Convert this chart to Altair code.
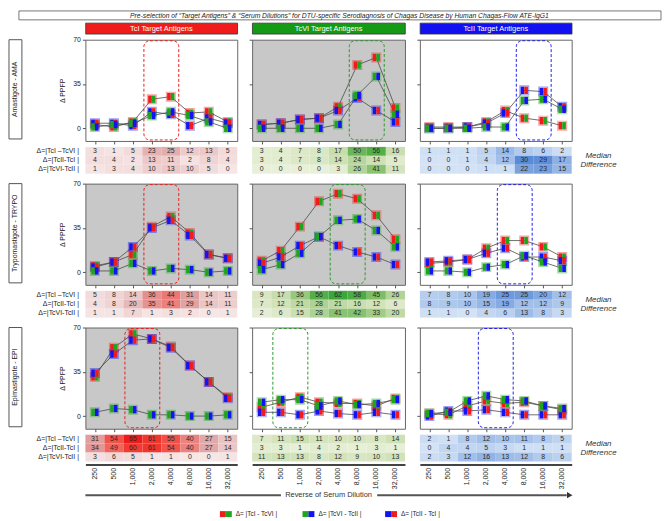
import altair as alt
import pandas as pd

# ---------------- data ----------------
dils = ["250", "500", "1,000", "2,000", "4,000", "8,000", "16,000", "32,000"]
series = ["Δ=|TcI –TcVI |", "Δ=|TcII-TcI |", "Δ=|TcVI-TcII |"]
row_names = ["Amastigote - AMA", "Trypomastigote - TRYPO", "Epimastigote - EPI"]
col_names = ["TcI Target Antigens", "TcVI Target Antigens", "TcII Target Antigens"]
legend_labels = ["Δ= |TcI - TcVI |", "Δ= |TcVI - TcII |", "Δ= |TcII - TcI |"]
title_text = ("Pre-selection of “Target Antigens” & “Serum Dilutions” for  DTU-specific "
              "Serodiagnosis of Chagas Disease by Human Chagas-Flow ATE-IgG1")
axis_caption = "Reverse of Serum Dilution"
side_note = "Median\nDifference"

# median differences: [TcI-TcVI, TcII-TcI, TcVI-TcII] per dilution
tci_ama = [[3, 1, 5, 23, 25, 12, 13, 5], [4, 4, 2, 13, 11, 2, 8, 4], [1, 3, 4, 10, 13, 10, 5, 0]]
tci_trypo = [[5, 8, 14, 36, 44, 31, 14, 11], [4, 8, 20, 35, 41, 29, 14, 11], [1, 1, 7, 1, 3, 2, 0, 1]]
tci_epi = [[31, 54, 65, 61, 55, 40, 27, 15], [34, 49, 60, 61, 54, 40, 27, 14], [3, 6, 5, 1, 1, 0, 0, 1]]
tcvi_ama = [[3, 4, 7, 8, 17, 50, 56, 16], [3, 4, 7, 8, 14, 24, 14, 5], [0, 0, 0, 0, 3, 26, 41, 11]]
tcvi_trypo = [[9, 17, 36, 56, 62, 58, 45, 26], [7, 12, 21, 28, 21, 16, 12, 6], [2, 6, 15, 28, 41, 42, 33, 20]]
tcvi_epi = [[7, 11, 15, 11, 10, 10, 8, 14], [3, 3, 1, 4, 2, 1, 3, 1], [11, 13, 13, 8, 12, 9, 10, 13]]
tcii_ama = [[1, 1, 1, 5, 14, 8, 6, 2], [0, 0, 1, 4, 12, 30, 29, 17], [0, 0, 0, 1, 1, 22, 23, 15]]
tcii_trypo = [[7, 8, 10, 19, 25, 25, 20, 12], [8, 9, 10, 15, 19, 12, 12, 9], [1, 1, 0, 4, 6, 13, 8, 3]]
tcii_epi = [[2, 1, 8, 12, 10, 11, 8, 5], [0, 4, 4, 5, 3, 1, 1, 1], [2, 3, 12, 16, 13, 12, 8, 6]]

# selected dilution windows (dashed boxes)
win_tci = [("2,000", "4,000"), ("2,000", "4,000"), ("1,000", "2,000")]
win_tcvi = [("8,000", "16,000"), ("4,000", "8,000"), ("500", "1,000")]
win_tcii = [("8,000", "16,000"), ("4,000", "8,000"), ("2,000", "4,000")]

panels = [[tci_ama, tcvi_ama, tcii_ama], [tci_trypo, tcvi_trypo, tcii_trypo], [tci_epi, tcvi_epi, tcii_epi]]
windows = [win_tci, win_tcvi, win_tcii]
gray_panels = [(0, 1), (1, 0), (1, 1), (2, 0)]

# ---------------- styles ----------------
RED, GREEN, BLUE = "#f01c1c", "#1ea51e", "#1414f0"
HEAD = [RED, "#149a14", "#1010f0"]
DASH = ["#e82020", "#2a9a2a", "#2020e8"]
left_col = {series[0]: RED, series[1]: BLUE, series[2]: GREEN}
right_col = {series[0]: GREEN, series[1]: RED, series[2]: BLUE}
leg_left = [RED, GREEN, BLUE]
leg_right = [GREEN, BLUE, RED]
cell_scales = [
    alt.Scale(domain=[0, 30, 65], range=["#f6e6e6", "#dda2a2", "#ef1a1a"]),
    alt.Scale(domain=[0, 30, 62], range=["#e9f0da", "#a9d08e", "#39a739"]),
    alt.Scale(domain=[0, 30], range=["#d3e2f5", "#5a8bd6"]),
]
LEFT_HALF = "M-1,-1H0V1H-1Z"
RIGHT_HALF = "M0,-1H1V1H0Z"
COLW = [153, 154, 153]
PLOTH = [102, 102, 102]
TABH = [31, 31, 30]
C0W = 62


def xscale_point():
    return alt.Scale(type="point", domain=dils, padding=0.5)


def plot_panel(r, c):
    vals = panels[r][c]
    w, h = COLW[c], PLOTH[r]
    recs = []
    for s, v in zip(series, vals):
        for i, (d, y) in enumerate(zip(dils, v)):
            recs.append({"dil": d, "v": y, "s": s, "i": i, "lc": left_col[s], "rc": right_col[s]})
    df = pd.DataFrame(recs)
    xax = alt.Axis(labels=False, ticks=True, tickSize=3, domain=False, title=None, grid=False)
    if c == 0:
        yax = alt.Axis(values=[0, 35, 70], title="Δ PPFP", titleFontSize=7, titleFontWeight="normal",
                       titlePadding=7, labelFontSize=7, tickSize=3, domain=False, grid=False)
    else:
        yax = alt.Axis(values=[0, 35, 70], title=None, labels=False, tickSize=3, domain=False, grid=False)
    xe = alt.X("dil:O", scale=xscale_point(), axis=xax)
    ye = alt.Y("v:Q", scale=alt.Scale(domain=[-10, 70], nice=False, zero=False), axis=yax)
    base = alt.Chart(df).encode(x=xe, y=ye)
    win = windows[c][r]
    bdf = pd.DataFrame({"dil": [win[0]], "dil2": [win[1]]})
    box = alt.Chart(bdf).mark_rect(fillOpacity=0, stroke=DASH[c], strokeDash=[3, 2], strokeWidth=1,
                                   cornerRadius=6, xOffset=-8, x2Offset=8).encode(
        x=xe, x2="dil2:O", y=alt.value(1), y2=alt.value(h - 1))
    line = base.mark_line(color="#4a4a4a", strokeWidth=0.8).encode(detail="s:N", order="i:Q")
    outline = base.mark_point(shape="square", filled=False, size=80, strokeWidth=1.1, opacity=0.4).encode(
        stroke=alt.Stroke("lc:N", scale=None))
    lh = base.mark_point(shape=LEFT_HALF, filled=True, size=56, opacity=1, strokeWidth=0).encode(
        fill=alt.Fill("lc:N", scale=None))
    rh = base.mark_point(shape=RIGHT_HALF, filled=True, size=56, opacity=1, strokeWidth=0).encode(
        fill=alt.Fill("rc:N", scale=None))
    fill = "#c8c8c8" if (r, c) in gray_panels else "white"
    return alt.layer(box, line, outline, lh, rh).properties(
        width=w, height=h, view=alt.ViewBackground(fill=fill, stroke="#666666", strokeWidth=1))


def table_panel(r, c):
    vals = panels[r][c]
    w, hh = COLW[c], TABH[r]
    recs = []
    for s, v in zip(series, vals):
        for d, y in zip(dils, v):
            recs.append({"dil": d, "s": s, "v": y})
    df = pd.DataFrame(recs)
    if r == 2:
        xax = alt.Axis(title=None, ticks=False, domain=True, domainColor="#444444", domainWidth=2,
                       labelAngle=270, labelFontSize=7, labelPadding=3)
    else:
        xax = None
    if c == 0:
        yax = alt.Axis(title=None, ticks=False, domain=False, labelFontSize=7, labelPadding=7)
    else:
        yax = None
    xe = alt.X("dil:O", scale=alt.Scale(type="band", domain=dils, paddingInner=0, paddingOuter=0), axis=xax)
    ye = alt.Y("s:N", scale=alt.Scale(type="band", domain=series, range=[0, 27], paddingInner=0, paddingOuter=0),
               axis=yax)
    base = alt.Chart(df).encode(x=xe, y=ye)
    rect = base.mark_rect().encode(color=alt.Color("v:Q", scale=cell_scales[c], legend=None))
    txt = base.mark_text(fontSize=7, color="#2a2a2a").encode(text="v:Q")
    layers = [rect, txt]
    if c == 2:
        ndf = pd.DataFrame({"t": [side_note]})
        note = alt.Chart(ndf).mark_text(fontSize=8, fontStyle="italic", color="#333333", lineBreak="\n",
                                        lineHeight=9, align="center", baseline="middle").encode(
            text="t:N", x=alt.value(w + 27), y=alt.value(9))
        layers.append(note)
    return alt.layer(*layers).properties(width=w, height=hh)


def row_label(r):
    h = PLOTH[r]
    df = pd.DataFrame({"t": [row_names[r]]})
    box = alt.Chart(df).mark_rect(fill="white", stroke="#555555", strokeWidth=1).encode(
        x=alt.value(0), x2=alt.value(13), y=alt.value(0), y2=alt.value(h - 2))
    txt = alt.Chart(df).mark_text(angle=270, fontSize=7, color="#222222").encode(
        text="t:N", x=alt.value(6.5), y=alt.value((h - 2) / 2))
    return alt.layer(box, txt).properties(width=C0W, height=h)


def header(c):
    df = pd.DataFrame({"t": [col_names[c]]})
    return alt.Chart(df).mark_text(color="white", fontSize=7.5).encode(
        text="t:N", x=alt.value(COLW[c] / 2), y=alt.value(6)).properties(
        width=COLW[c], height=11, view=alt.ViewBackground(fill=HEAD[c], stroke="#333333", strokeWidth=0.8))


def placeholder():
    return alt.Chart(pd.DataFrame({"t": [0]})).mark_point(size=0, opacity=0).encode(
        x=alt.value(1), y=alt.value(1)).properties(width=C0W, height=1)


cells = [placeholder()] + [header(c) for c in range(3)]
for r in range(3):
    cells += [row_label(r)] + [plot_panel(r, c) for c in range(3)]
    cells += [placeholder()] + [table_panel(r, c) for c in range(3)]

grid = alt.concat(*cells, columns=4, spacing={"row": 6, "column": 15}, bounds="flush",
                  align="each").resolve_scale(color="independent")

# title box
tdf = pd.DataFrame({"t": [title_text]})
tbox = alt.Chart(tdf).mark_rect(fill="white", stroke="#555555", strokeWidth=0.8).encode(
    x=alt.value(10), x2=alt.value(657), y=alt.value(0), y2=alt.value(9))
ttxt = alt.Chart(tdf).mark_text(fontSize=6.8, fontStyle="italic", color="#222222").encode(
    text="t:N", x=alt.value(333), y=alt.value(5))
title_chart = alt.layer(tbox, ttxt).properties(width=657, height=9)

# bottom: arrow + caption + legend
cdf = pd.DataFrame({"t": [axis_caption]})
seg1 = alt.Chart(cdf).mark_rule(color="#555555", strokeWidth=2).encode(
    x=alt.value(77), x2=alt.value(274), y=alt.value(4))
seg2 = alt.Chart(cdf).mark_rule(color="#555555", strokeWidth=2).encode(
    x=alt.value(371), x2=alt.value(562), y=alt.value(4))
head = alt.Chart(cdf).mark_point(shape="triangle-right", filled=True, size=40, opacity=1, color="#333333").encode(
    x=alt.value(565), y=alt.value(4))
cap = alt.Chart(cdf).mark_text(fontSize=7.5, color="#333333").encode(text="t:N", x=alt.value(322), y=alt.value(4))

ldf = pd.DataFrame({"lab": legend_labels, "lc": leg_left, "rc": leg_right})
lx = alt.X("lab:N", scale=alt.Scale(type="point", domain=legend_labels, range=[218.5, 385], padding=0), axis=None)
lbase = alt.Chart(ldf).encode(x=lx, y=alt.value(23))
sw1 = lbase.mark_point(shape="M-2,-1H0V1H-2Z", filled=True, size=36, opacity=1, strokeWidth=0).encode(
    fill=alt.Fill("lc:N", scale=None))
sw2 = lbase.mark_point(shape="M0,-1H2V1H0Z", filled=True, size=36, opacity=1, strokeWidth=0).encode(
    fill=alt.Fill("rc:N", scale=None))
ltxt = lbase.mark_text(align="left", dx=10, fontSize=6.5, color="#222222").encode(text="lab:N")
bottom = alt.layer(seg1, seg2, head, cap, sw1, sw2, ltxt).properties(width=657, height=27)

chart = alt.vconcat(title_chart, grid, bottom, spacing=1).properties(
    padding={"left": 0, "top": 0, "right": 0, "bottom": 0}).configure(
    font="Liberation Sans").configure_view(stroke="transparent").configure_axis(
    tickColor="#555555", labelColor="#222222", titleColor="#222222", domainColor="#555555")

chart.save("out.html", embed_options={"renderer": "svg", "actions": False})
